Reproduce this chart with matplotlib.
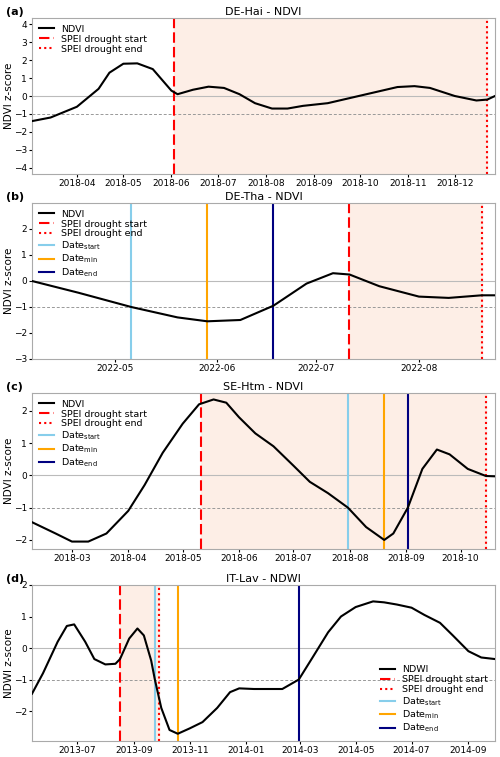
import matplotlib
matplotlib.use("Agg")
import matplotlib.pyplot as plt
import matplotlib.dates as mdates
import pandas as pd

# Panel (a) DE-Hai NDVI
a_dates = ["2018-03-03","2018-03-15","2018-04-01","2018-04-15","2018-04-22","2018-05-01","2018-05-10","2018-05-20",
           "2018-06-01","2018-06-05","2018-06-15","2018-06-25","2018-07-05","2018-07-15","2018-07-25","2018-08-05",
           "2018-08-15","2018-08-25","2018-09-10","2018-09-25","2018-10-10","2018-10-25","2018-11-05","2018-11-15",
           "2018-12-01","2018-12-15","2018-12-22","2018-12-27"]
a_vals = [-1.4,-1.2,-0.6,0.4,1.3,1.8,1.82,1.5,0.3,0.1,0.35,0.52,0.45,0.1,-0.4,-0.7,
          -0.7,-0.55,-0.4,-0.1,0.2,0.5,0.55,0.45,0.0,-0.25,-0.2,0.0]
a_events = {"ds": "2018-06-03", "de": "2018-12-22"}
a_xlim = ("2018-03-03", "2018-12-27")

# Panel (b) DE-Tha NDVI
b_dates = ["2022-04-06","2022-04-20","2022-05-06","2022-05-20","2022-05-29","2022-06-08","2022-06-18","2022-06-28",
           "2022-07-06","2022-07-11","2022-07-20","2022-08-01","2022-08-10","2022-08-20","2022-08-24"]
b_vals = [0.0,-0.45,-1.0,-1.4,-1.55,-1.5,-0.95,-0.1,0.3,0.25,-0.2,-0.6,-0.65,-0.55,-0.55]
b_events = {"ds": "2022-07-11", "de": "2022-08-20", "start": "2022-05-06", "min": "2022-05-29", "end": "2022-06-18"}
b_xlim = ("2022-04-06", "2022-08-24")

# Panel (c) SE-Htm NDVI
c_dates = ["2018-02-07","2018-02-20","2018-03-01","2018-03-10","2018-03-20","2018-04-01","2018-04-10","2018-04-20",
           "2018-05-01","2018-05-10","2018-05-18","2018-05-25","2018-06-01","2018-06-10","2018-06-20","2018-07-01",
           "2018-07-10","2018-07-20","2018-07-31","2018-08-10","2018-08-20","2018-08-25","2018-09-02","2018-09-10",
           "2018-09-18","2018-09-25","2018-10-05","2018-10-15","2018-10-20"]
c_vals = [-1.45,-1.8,-2.05,-2.05,-1.8,-1.1,-0.3,0.7,1.6,2.2,2.35,2.25,1.8,1.3,0.9,0.3,
          -0.2,-0.55,-1.0,-1.6,-2.0,-1.8,-1.0,0.2,0.8,0.65,0.2,-0.02,-0.03]
c_events = {"ds": "2018-05-11", "de": "2018-10-15", "start": "2018-07-31", "min": "2018-08-20", "end": "2018-09-02"}
c_xlim = ("2018-02-07", "2018-10-20")

# Panel (d) IT-Lav NDWI
d_dates = ["2013-05-13","2013-05-25","2013-06-10","2013-06-20","2013-06-28","2013-07-10","2013-07-20","2013-08-01",
           "2013-08-12","2013-08-17","2013-08-27","2013-09-05","2013-09-12","2013-09-20","2013-09-24","2013-10-01",
           "2013-10-10","2013-10-19","2013-11-01","2013-11-15","2013-12-01","2013-12-15","2013-12-25","2014-01-10",
           "2014-01-25","2014-02-10","2014-02-28","2014-03-15","2014-04-01","2014-04-15","2014-05-01","2014-05-20",
           "2014-06-01","2014-06-15","2014-07-01","2014-07-15","2014-08-01","2014-08-15","2014-09-01","2014-09-15",
           "2014-09-30"]
d_vals = [-1.45,-0.8,0.2,0.7,0.75,0.2,-0.35,-0.52,-0.5,-0.35,0.3,0.62,0.4,-0.4,-1.0,-1.9,
          -2.6,-2.72,-2.55,-2.35,-1.9,-1.4,-1.28,-1.3,-1.3,-1.3,-1.0,-0.3,0.5,1.0,1.3,1.48,
          1.45,1.38,1.28,1.05,0.8,0.4,-0.1,-0.3,-0.35]
d_events = {"ds": "2013-08-17", "de": "2013-09-28", "start": "2013-09-24", "min": "2013-10-19", "end": "2014-02-28"}
d_xlim = ("2013-05-13", "2014-09-30")

panels = [
    ("(a)", "DE-Hai - NDVI", "NDVI", a_dates, a_vals, a_events, a_xlim, (-4.35, 4.35), range(-4, 5), None, "upper left"),
    ("(b)", "DE-Tha - NDVI", "NDVI", b_dates, b_vals, b_events, b_xlim, (-3, 3), range(-3, 3), None, "upper left"),
    ("(c)", "SE-Htm - NDVI", "NDVI", c_dates, c_vals, c_events, c_xlim, (-2.28, 2.55), range(-2, 3), None, "upper left"),
    ("(d)", "IT-Lav - NDWI", "NDWI", d_dates, d_vals, d_events, d_xlim, (-2.95, 2.0), range(-2, 3), [1, 3, 5, 7, 9, 11], "lower right"),
]
rects = [(18, 174), (203, 359), (393, 549), (585, 741)]

plt.rcParams["font.family"] = "DejaVu Sans"
fig = plt.figure(figsize=(5, 7.57), dpi=100)
H = 757
for (lab, title, var, dts, vals, ev, xl, yl, yt, months, loc), (top, bot) in zip(panels, rects):
    ax = fig.add_axes([32/500, 1 - bot/H, (495-32)/500, (bot-top)/H])
    x = pd.to_datetime(dts)
    ax.axvspan(pd.Timestamp(ev["ds"]), pd.Timestamp(ev["de"]), color="#fdeee6", zorder=0)
    ax.axhline(0, color="#bbbbbb", lw=0.8, zorder=1)
    ax.axhline(-1, color="#999999", lw=0.7, ls=(0, (3, 2)), zorder=1)
    ax.plot(x, vals, color="black", lw=1.5, label=var, zorder=3)
    ax.axvline(pd.Timestamp(ev["ds"]), color="red", ls=(0, (5, 2)), lw=1.5, label="SPEI drought start", zorder=2)
    ax.axvline(pd.Timestamp(ev["de"]), color="red", ls=(0, (1, 1.5)), lw=1.5, label="SPEI drought end", zorder=2)
    if "start" in ev:
        ax.axvline(pd.Timestamp(ev["start"]), color="#87ceeb", lw=1.5, label=r"Date$_{\mathrm{start}}$", zorder=2)
        ax.axvline(pd.Timestamp(ev["min"]), color="orange", lw=1.5, label=r"Date$_{\mathrm{min}}$", zorder=2)
        ax.axvline(pd.Timestamp(ev["end"]), color="navy", lw=1.5, label=r"Date$_{\mathrm{end}}$", zorder=2)
    ax.set_xlim(pd.Timestamp(xl[0]), pd.Timestamp(xl[1]))
    ax.set_ylim(*yl)
    ax.set_yticks(list(yt))
    if months:
        ax.xaxis.set_major_locator(mdates.MonthLocator(bymonth=months))
    else:
        ax.xaxis.set_major_locator(mdates.MonthLocator())
    ax.xaxis.set_major_formatter(mdates.DateFormatter("%Y-%m"))
    ax.tick_params(labelsize=6.5, length=2, pad=1.5)
    for s in ax.spines.values():
        s.set_color("#aaaaaa")
    ax.set_ylabel(f"{var} z-score", fontsize=7.5, labelpad=0)
    ax.set_title(title, fontsize=8, pad=2)
    fig.text(6/500, 1 - (top - 1)/H, lab, fontsize=8, fontweight="bold", va="bottom")
    ax.legend(loc=loc, fontsize=6.8, frameon=False, handlelength=1.6, labelspacing=0.1, borderaxespad=0.3)
fig.savefig("out.png", dpi=100)
